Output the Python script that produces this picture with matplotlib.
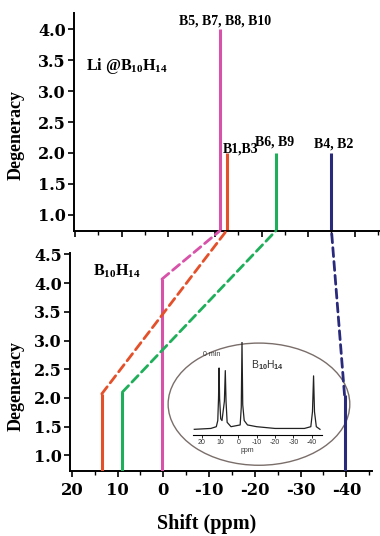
import matplotlib
matplotlib.use("Agg")
import matplotlib.pyplot as plt
from matplotlib.font_manager import FontProperties
from matplotlib.patches import ConnectionPatch, Ellipse

plt.rcParams["font.family"] = ["Liberation Serif", "DejaVu Serif"]
plt.rcParams["font.weight"] = "bold"
plt.rcParams["axes.labelweight"] = "bold"
plt.rcParams["mathtext.fontset"] = "custom"
plt.rcParams["mathtext.rm"] = "Liberation Serif:bold"
plt.rcParams["mathtext.bf"] = "Liberation Serif:bold"
plt.rcParams["mathtext.it"] = "Liberation Serif:bold:italic"
plt.rcParams["mathtext.sf"] = "Liberation Sans"

# ---- data ----
colors = ["#d752a8", "#e4502a", "#1faf5a", "#2a2a7c"]  # pink, red, green, navy

# Li@B10H14 (top panel)
li_shift = [-11.1, -12.5, -23.1, -35.0]
li_degen = [4.0, 2.0, 2.0, 2.0]
li_labels = ["B5, B7, B8, B10", "B1,B3", "B6, B9", "B4, B2"]

# B10H14 (bottom panel)
b_shift = [0.3, 13.45, 8.95, -39.6]
b_degen = [4.07, 2.07, 2.1, 2.05]

yticks = [1.0, 1.5, 2.0, 2.5, 3.0, 3.5, 4.0, 4.5]
xticks = [20, 10, 0, -10, -20, -30, -40]

# inset 11B NMR spectrum (ppm, relative intensity)
spec_ppm = [24.0, 15.0, 12.0, 11.2, 10.8, 10.5, 10.2, 9.6, 8.9, 7.6, 7.1, 6.7, 6.1,
            4.0, -1.0, -1.6, -2.0, -2.4, -3.2, -5.0, -10.0, -20.0, -36.0,
            -39.5, -40.4, -41.0, -41.5, -42.5, -44.5]
spec_int = [0.00, 0.01, 0.03, 0.10, 0.35, 0.70, 0.35, 0.12, 0.10, 0.32, 0.67, 0.32, 0.08,
            0.03, 0.05, 0.25, 1.00, 0.28, 0.10, 0.05, 0.03, 0.01, 0.01,
            0.03, 0.20, 0.61, 0.20, 0.03, 0.00]
inset_ticks = [20, 10, 0, -10, -20, -30, -40]

# tick numbers in the original are wide and heavy
ytick_font = FontProperties(family="DejaVu Serif", weight="bold", size=11.5)
xtick_font = FontProperties(family="DejaVu Serif", weight="bold", size=11.8)

fig = plt.figure(figsize=(3.8, 5.36), dpi=100)

ax_top = fig.add_axes([0.1947, 0.5696, 0.8053, 0.4062])
ax_bot = fig.add_axes([0.1842, 0.1218, 0.7947, 0.4056])

top_ymin = 0.746
for ax in (ax_top, ax_bot):
    for s in ("top", "right"):
        ax.spines[s].set_visible(False)
    for s in ("left", "bottom"):
        ax.spines[s].set_linewidth(1.4)
    ax.tick_params(direction="out", length=4, width=1.2)
    ax.tick_params(which="minor", direction="out", length=3, width=1.0)
    ax.tick_params(axis="y", pad=2)
    ax.tick_params(axis="x", pad=4)

# top panel
ax_top.set_xlim(20.2, -45.4)
ax_top.set_ylim(top_ymin, 4.26)
ax_top.set_xticks(xticks)
ax_top.set_xticks([15, 5, -5, -15, -25, -35, -45], minor=True)
ax_top.set_xticklabels([])
ax_top.set_yticks(yticks[:-1])
ax_top.set_yticklabels([f"{t:.1f}" for t in yticks[:-1]])
for lab in ax_top.get_yticklabels():
    lab.set_fontproperties(ytick_font)
for x, h, c in zip(li_shift, li_degen, colors):
    ax_top.plot([x, x], [top_ymin, h], color=c, lw=2.2, solid_capstyle="butt", clip_on=False)

# peak labels
ax_top.text(li_shift[0] - 1.0, 4.13, li_labels[0], ha="center", va="center", fontsize=10)
ax_top.text(li_shift[1] + 0.9, 2.07, li_labels[1], ha="left", va="center", fontsize=10)
ax_top.text(li_shift[2] + 0.3, 2.18, li_labels[2], ha="center", va="center", fontsize=10)
ax_top.text(li_shift[3] - 0.5, 2.15, li_labels[3], ha="center", va="center", fontsize=10)
ax_top.text(17.6, 3.4, "Li @B$_{10}$H$_{14}$", ha="left", va="center", fontsize=11.5)
ax_top.set_ylabel("Degeneracy", fontsize=13)
ax_top.yaxis.set_label_coords(-0.16, 0.44)

# bottom panel
ax_bot.set_xlim(20.4, -45.6)
ax_bot.set_ylim(0.73, 4.52)
ax_bot.set_xticks(xticks)
ax_bot.set_xticks([15, 5, -5, -15, -25, -35, -45], minor=True)
ax_bot.set_xticklabels([str(t) for t in xticks])
ax_bot.set_yticks(yticks)
ax_bot.set_yticklabels([f"{t:.1f}" for t in yticks])
for lab in ax_bot.get_xticklabels():
    lab.set_fontproperties(xtick_font)
for lab in ax_bot.get_yticklabels():
    lab.set_fontproperties(ytick_font)
for x, h, c in zip(b_shift, b_degen, colors):
    ax_bot.plot([x, x], [0.73, h], color=c, lw=2.2, solid_capstyle="butt", zorder=3)
ax_bot.text(15.4, 4.2, "B$_{10}$H$_{14}$", ha="left", va="center", fontsize=11.5)
ax_bot.set_ylabel("Degeneracy", fontsize=13)
ax_bot.yaxis.set_label_coords(-0.149, 0.39)
ax_bot.set_xlabel("Shift (ppm)", fontsize=14.5)
ax_bot.xaxis.set_label_coords(0.454, -0.2)

# dashed guides linking the two panels
for xb, hb, xt, c in zip(b_shift, b_degen, li_shift, colors):
    con = ConnectionPatch(xyA=(xb, hb), coordsA=ax_bot.transData,
                          xyB=(xt, top_ymin), coordsB=ax_top.transData,
                          color=c, lw=2.0, linestyle=(0, (3.2, 1.8)))
    fig.add_artist(con)

# inset spectrum inside an ellipse
ell = Ellipse((-20.9, 1.89), 39.7, 2.13, facecolor="none", edgecolor="#7a6e6a",
              lw=1.0, zorder=1)
ax_bot.add_patch(ell)

ax_in = fig.add_axes([0.5079, 0.1884, 0.3395, 0.1741])
ax_in.patch.set_alpha(0)
for s in ("top", "right", "left"):
    ax_in.spines[s].set_visible(False)
ax_in.spines["bottom"].set_linewidth(0.8)
ax_in.plot(spec_ppm, spec_int, color="#222222", lw=0.9)
ax_in.set_xlim(24.7, -45.6)
ax_in.set_ylim(-0.065, 1.0)
ax_in.set_yticks([])
ax_in.set_xticks(inset_ticks)
ax_in.set_xticklabels([str(t) for t in inset_ticks], fontsize=5, fontweight="normal",
                      family="Liberation Sans", color="#333333")
ax_in.tick_params(axis="x", length=2, width=0.6, pad=1)
ax_in.set_xlabel("ppm", fontsize=5, fontweight="normal", family="Liberation Sans",
                 color="#333333")
ax_in.xaxis.set_label_coords(0.42, -0.13)
ax_in.text(0.145, 0.86, "0 min", transform=ax_in.transAxes, ha="center", va="center",
           fontsize=5, fontweight="normal", family="Liberation Sans", color="#333333")
ax_in.text(0.58, 0.75, r"B$_{\mathsf{10}}$H$_{\mathsf{14}}$", transform=ax_in.transAxes,
           ha="center", va="center", fontsize=7.5, fontweight="normal",
           family="Liberation Sans", color="#333333")

fig.savefig("out.png", dpi=100, facecolor="white")
